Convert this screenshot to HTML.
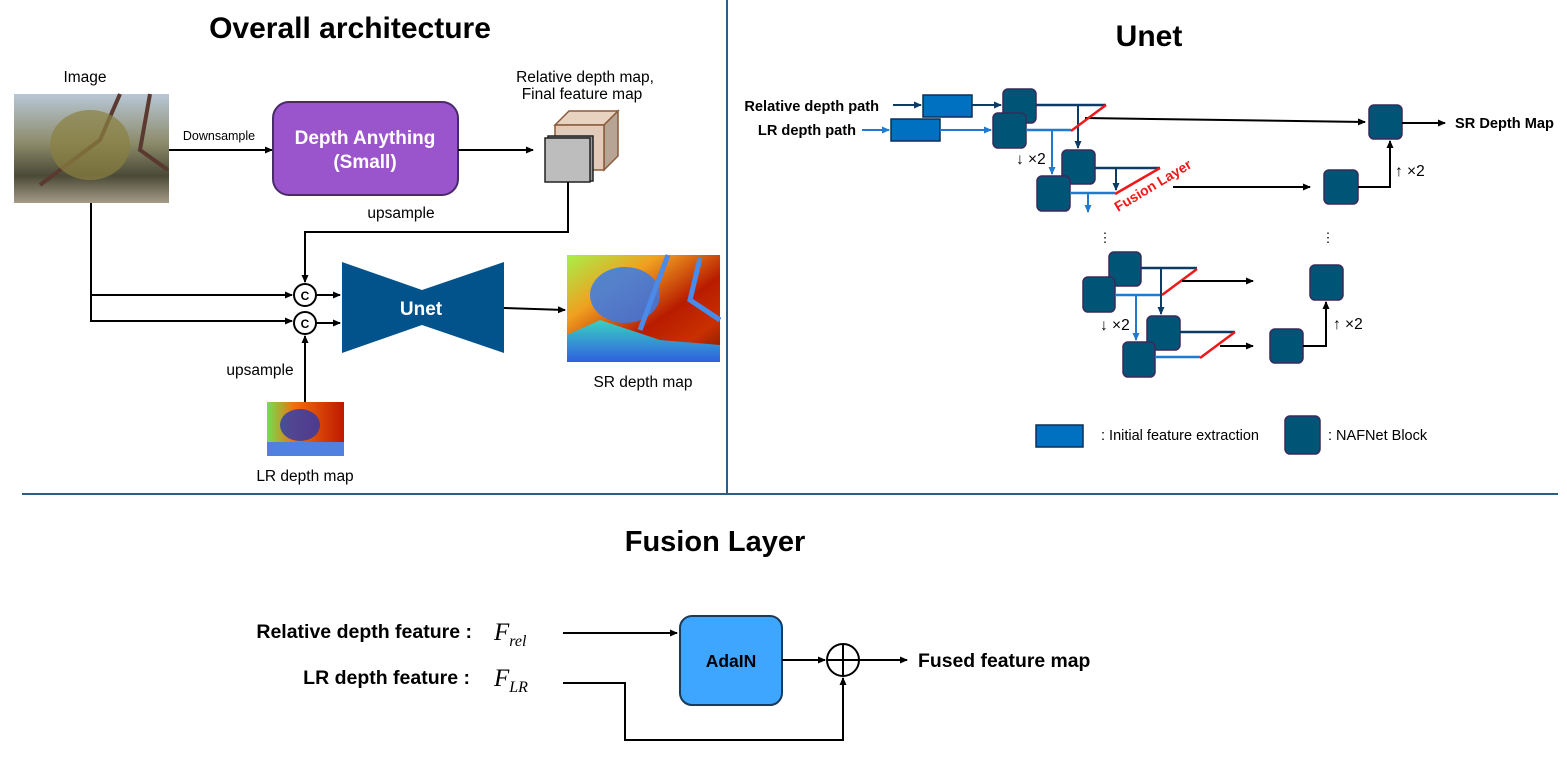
<!DOCTYPE html>
<html><head><meta charset="utf-8"><style>
body{margin:0;background:#fff;}
svg text{font-family:"Liberation Sans",Arial,sans-serif;}
</style></head><body>
<svg width="1567" height="768" viewBox="0 0 1567 768" xmlns="http://www.w3.org/2000/svg">
<defs>
<marker id="a" markerWidth="8" markerHeight="8" refX="7" refY="4" orient="auto" markerUnits="userSpaceOnUse"><path d="M0,0.5 L8,4 L0,7.5 z" fill="#000"/></marker>
<marker id="an" markerWidth="8" markerHeight="8" refX="7" refY="4" orient="auto" markerUnits="userSpaceOnUse"><path d="M0,0.5 L8,4 L0,7.5 z" fill="#0e3b66"/></marker>
<marker id="ab" markerWidth="8" markerHeight="8" refX="7" refY="4" orient="auto" markerUnits="userSpaceOnUse"><path d="M0,0.5 L8,4 L0,7.5 z" fill="#1f7ad0"/></marker>
<linearGradient id="img" x1="0" y1="0" x2="0" y2="1"><stop offset="0" stop-color="#b9c7d6"/><stop offset="0.45" stop-color="#8c8b6a"/><stop offset="0.75" stop-color="#4a4a36"/><stop offset="1" stop-color="#a49c88"/></linearGradient>
<linearGradient id="sr" x1="0" y1="0" x2="1" y2="1"><stop offset="0" stop-color="#a6f048"/><stop offset="0.3" stop-color="#f0a020"/><stop offset="0.6" stop-color="#b81c00"/><stop offset="0.8" stop-color="#c83000"/><stop offset="1" stop-color="#7a1800"/></linearGradient>
<linearGradient id="srb" x1="0" y1="0" x2="0" y2="1"><stop offset="0" stop-color="#3ad0c0"/><stop offset="1" stop-color="#3060e0"/></linearGradient>
<linearGradient id="lr" x1="0" y1="0" x2="1" y2="0"><stop offset="0" stop-color="#70e050"/><stop offset="0.35" stop-color="#f07010"/><stop offset="1" stop-color="#c01800"/></linearGradient>
</defs>

<line x1="727" y1="0" x2="727" y2="493" stroke="#2b5d86" stroke-width="2"/>
<line x1="22" y1="494" x2="1558" y2="494" stroke="#2b5d86" stroke-width="2"/>

<text x="350" y="38" font-size="30" font-weight="bold" text-anchor="middle">Overall architecture</text>
<text x="85" y="82" font-size="15.5" text-anchor="middle">Image</text>
<rect x="14" y="94" width="155" height="109" fill="url(#img)"/>
<path d="M120,94 L100,140 L40,185 M150,94 L140,150 L168,170" stroke="#5a3a30" stroke-width="4" fill="none"/>
<ellipse cx="90" cy="145" rx="40" ry="35" fill="#8a8040" opacity="0.7"/>
<text x="219" y="140" font-size="12.5" text-anchor="middle">Downsample</text>
<line x1="169" y1="150" x2="272" y2="150" stroke="#000" stroke-width="2" marker-end="url(#a)"/>
<rect x="273" y="102" width="185" height="93" rx="16" fill="#9a55cc" stroke="#4a2a6a" stroke-width="2"/>
<text x="365" y="144" font-size="19" font-weight="bold" fill="#fff" text-anchor="middle">Depth Anything</text>
<text x="365" y="168" font-size="19" font-weight="bold" fill="#fff" text-anchor="middle">(Small)</text>
<line x1="458" y1="150" x2="533" y2="150" stroke="#000" stroke-width="2" marker-end="url(#a)"/>
<text x="585" y="82" font-size="15.5" text-anchor="middle">Relative depth map,</text>
<text x="582" y="99" font-size="15.5" text-anchor="middle">Final feature map</text>
<polygon points="555,125 569,111 618,111 604,125" fill="#e8d2c0" stroke="#8a5a3a" stroke-width="1.5"/>
<polygon points="604,125 618,111 618,156 604,170" fill="#b8a494" stroke="#8a5a3a" stroke-width="1.5"/>
<rect x="555" y="125" width="49" height="45" fill="#e2cbb8" stroke="#8a5a3a" stroke-width="1.5"/>
<rect x="548" y="136" width="45" height="45" fill="#9a9a9a" stroke="#222" stroke-width="1.5"/>
<rect x="545" y="138" width="45" height="44" fill="#bdbdbd" stroke="#222" stroke-width="1.5"/>
<text x="401" y="218" font-size="15.5" text-anchor="middle">upsample</text>
<polyline points="568,182 568,232 305,232 305,282" fill="none" stroke="#000" stroke-width="2" marker-end="url(#a)"/>
<polyline points="91,203 91,321 292,321" fill="none" stroke="#000" stroke-width="2" marker-end="url(#a)"/>
<line x1="91" y1="295" x2="292" y2="295" stroke="#000" stroke-width="2" marker-end="url(#a)"/>
<circle cx="305" cy="295" r="11" fill="#fff" stroke="#000" stroke-width="2"/>
<text x="305" y="300" font-size="12" font-weight="bold" text-anchor="middle">C</text>
<circle cx="305" cy="323" r="11" fill="#fff" stroke="#000" stroke-width="2"/>
<text x="305" y="328" font-size="12" font-weight="bold" text-anchor="middle">C</text>
<line x1="316" y1="295" x2="340" y2="295" stroke="#000" stroke-width="2" marker-end="url(#a)"/>
<line x1="316" y1="323" x2="340" y2="323" stroke="#000" stroke-width="2" marker-end="url(#a)"/>
<polygon points="342,262 422,290 504,262 504,353 422,325 342,353" fill="#02528c"/>
<text x="421" y="315" font-size="19" font-weight="bold" fill="#fff" text-anchor="middle">Unet</text>
<line x1="504" y1="308" x2="565" y2="310" stroke="#000" stroke-width="2" marker-end="url(#a)"/>
<rect x="567" y="255" width="153" height="107" fill="url(#sr)"/>
<polygon points="567,335 600,320 660,340 720,345 720,362 567,362" fill="url(#srb)"/>
<ellipse cx="625" cy="295" rx="35" ry="28" fill="#3a7ae8" opacity="0.85"/>
<path d="M668,255 L640,330 M700,258 L690,300 L720,320" stroke="#4a8ae8" stroke-width="5" fill="none"/>
<text x="643" y="387" font-size="15.5" text-anchor="middle">SR depth map</text>
<text x="260" y="375" font-size="15.5" text-anchor="middle">upsample</text>
<line x1="305" y1="402" x2="305" y2="336" stroke="#000" stroke-width="2" marker-end="url(#a)"/>
<rect x="267" y="402" width="77" height="54" fill="url(#lr)"/>
<ellipse cx="300" cy="425" rx="20" ry="16" fill="#2a3ab0" opacity="0.8"/>
<rect x="267" y="442" width="77" height="14" fill="#5080e0"/>
<text x="305" y="481" font-size="15.5" text-anchor="middle">LR depth map</text>

<text x="1149" y="46" font-size="30" font-weight="bold" text-anchor="middle">Unet</text>
<text x="879" y="111" font-size="14.6" font-weight="bold" text-anchor="end">Relative depth path</text>
<text x="856" y="135" font-size="14.6" font-weight="bold" text-anchor="end">LR depth path</text>
<line x1="893" y1="105" x2="921" y2="105" stroke="#0e3b66" stroke-width="2" marker-end="url(#an)"/>
<line x1="862" y1="130" x2="889" y2="130" stroke="#1f7ad0" stroke-width="2" marker-end="url(#ab)"/>
<rect x="923" y="95" width="49" height="22" fill="#0070c0" stroke="#0d2f55" stroke-width="1.5"/>
<rect x="891" y="119" width="49" height="22" fill="#0070c0" stroke="#0d2f55" stroke-width="1.5"/>
<line x1="972" y1="105" x2="1001" y2="105" stroke="#0e3b66" stroke-width="2" marker-end="url(#an)"/>
<line x1="940" y1="130" x2="991" y2="130" stroke="#1f7ad0" stroke-width="2" marker-end="url(#ab)"/>

<g fill="#005577" stroke="#3b2a5a" stroke-width="1.5">
<rect x="1003" y="89" width="33" height="34" rx="5"/>
<rect x="993" y="113" width="33" height="35" rx="5"/>
</g>
<line x1="1036" y1="105" x2="1106" y2="105" stroke="#0e3b66" stroke-width="2.5"/>
<line x1="1026" y1="130" x2="1071" y2="130" stroke="#1f7ad0" stroke-width="2.5"/>
<line x1="1078" y1="105" x2="1078" y2="148" stroke="#0e3b66" stroke-width="2" marker-end="url(#an)"/>
<line x1="1052" y1="130" x2="1052" y2="174" stroke="#1f7ad0" stroke-width="2" marker-end="url(#ab)"/>
<line x1="1085" y1="118" x2="1365" y2="122" stroke="#000" stroke-width="2" marker-end="url(#a)"/>
<line x1="1106" y1="105" x2="1071" y2="131" stroke="#f01818" stroke-width="2.5"/>
<text x="1016" y="164" font-size="15.5">↓ ×2</text>

<g fill="#005577" stroke="#3b2a5a" stroke-width="1.5">
<rect x="1062" y="150" width="33" height="34" rx="5"/>
<rect x="1037" y="176" width="33" height="35" rx="5"/>
</g>
<line x1="1095" y1="168" x2="1160" y2="168" stroke="#0e3b66" stroke-width="2.5"/>
<line x1="1070" y1="193" x2="1115" y2="193" stroke="#1f7ad0" stroke-width="2.5"/>
<line x1="1116" y1="168" x2="1116" y2="190" stroke="#0e3b66" stroke-width="2" marker-end="url(#an)"/>
<line x1="1088" y1="193" x2="1088" y2="212" stroke="#1f7ad0" stroke-width="2" marker-end="url(#ab)"/>
<line x1="1160" y1="168" x2="1115" y2="194" stroke="#f01818" stroke-width="2.5"/>
<text x="0" y="0" font-size="14" font-weight="bold" fill="#f01818" transform="translate(1118,212) rotate(-31)">Fusion Layer</text>
<line x1="1173" y1="187" x2="1310" y2="187" stroke="#000" stroke-width="2" marker-end="url(#a)"/>

<text x="1105" y="242" font-size="13" text-anchor="middle">⋮</text>
<text x="1328" y="242" font-size="13" text-anchor="middle">⋮</text>

<g fill="#005577" stroke="#3b2a5a" stroke-width="1.5">
<rect x="1109" y="252" width="32" height="34" rx="5"/>
<rect x="1083" y="277" width="32" height="35" rx="5"/>
<rect x="1147" y="316" width="33" height="34" rx="5"/>
<rect x="1123" y="342" width="32" height="35" rx="5"/>
<rect x="1369" y="105" width="33" height="34" rx="5"/>
<rect x="1324" y="170" width="34" height="34" rx="5"/>
<rect x="1310" y="265" width="33" height="35" rx="5"/>
<rect x="1270" y="329" width="33" height="34" rx="5"/>
<rect x="1285" y="416" width="35" height="38" rx="5"/>
</g>
<line x1="1141" y1="268" x2="1197" y2="268" stroke="#0e3b66" stroke-width="2.5"/>
<line x1="1115" y1="295" x2="1162" y2="295" stroke="#1f7ad0" stroke-width="2.5"/>
<line x1="1161" y1="268" x2="1161" y2="314" stroke="#0e3b66" stroke-width="2" marker-end="url(#an)"/>
<line x1="1136" y1="295" x2="1136" y2="340" stroke="#1f7ad0" stroke-width="2" marker-end="url(#ab)"/>
<line x1="1197" y1="269" x2="1162" y2="295" stroke="#f01818" stroke-width="2.5"/>
<line x1="1182" y1="281" x2="1253" y2="281" stroke="#000" stroke-width="2" marker-end="url(#a)"/>
<text x="1100" y="330" font-size="15.5">↓ ×2</text>
<line x1="1180" y1="332" x2="1235" y2="332" stroke="#0e3b66" stroke-width="2.5"/>
<line x1="1155" y1="357" x2="1200" y2="357" stroke="#1f7ad0" stroke-width="2.5"/>
<line x1="1235" y1="332" x2="1200" y2="358" stroke="#f01818" stroke-width="2.5"/>
<line x1="1220" y1="346" x2="1253" y2="346" stroke="#000" stroke-width="2" marker-end="url(#a)"/>

<polyline points="1303,346 1326,346 1326,302" fill="none" stroke="#000" stroke-width="2" marker-end="url(#a)"/>
<text x="1333" y="329" font-size="15.5">↑ ×2</text>
<polyline points="1358,187 1390,187 1390,141" fill="none" stroke="#000" stroke-width="2" marker-end="url(#a)"/>
<text x="1395" y="176" font-size="15.5">↑ ×2</text>
<line x1="1402" y1="123" x2="1445" y2="123" stroke="#000" stroke-width="2" marker-end="url(#a)"/>
<text x="1455" y="128" font-size="14.6" font-weight="bold">SR Depth Map</text>

<rect x="1036" y="425" width="47" height="22" fill="#0070c0" stroke="#0d2f55" stroke-width="1.5"/>
<text x="1101" y="440" font-size="14.5">: Initial feature extraction</text>
<text x="1328" y="440" font-size="14.5">:  NAFNet  Block</text>

<text x="715" y="551" font-size="29" font-weight="bold" text-anchor="middle">Fusion Layer</text>
<text x="472" y="638" font-size="19.5" font-weight="bold" text-anchor="end">Relative depth feature :</text>
<text x="470" y="684" font-size="19.5" font-weight="bold" text-anchor="end">LR depth feature :</text>
<text x="494" y="640" font-size="25" font-style="italic" style="font-family:'Liberation Serif',serif">F<tspan font-size="16" dy="6">rel</tspan></text>
<text x="494" y="686" font-size="25" font-style="italic" style="font-family:'Liberation Serif',serif">F<tspan font-size="16" dy="6">LR</tspan></text>
<line x1="563" y1="633" x2="677" y2="633" stroke="#000" stroke-width="2" marker-end="url(#a)"/>
<rect x="680" y="616" width="102" height="89" rx="12" fill="#3ea6ff" stroke="#1a3a5a" stroke-width="2"/>
<text x="731" y="667" font-size="17.5" font-weight="bold" text-anchor="middle">AdaIN</text>
<line x1="782" y1="660" x2="825" y2="660" stroke="#000" stroke-width="2" marker-end="url(#a)"/>
<circle cx="843" cy="660" r="16" fill="#fff" stroke="#000" stroke-width="2"/>
<line x1="827" y1="660" x2="859" y2="660" stroke="#000" stroke-width="2"/>
<line x1="843" y1="644" x2="843" y2="676" stroke="#000" stroke-width="2"/>
<line x1="859" y1="660" x2="907" y2="660" stroke="#000" stroke-width="2" marker-end="url(#a)"/>
<text x="918" y="667" font-size="19.4" font-weight="bold">Fused feature map</text>
<polyline points="563,683 625,683 625,740 843,740 843,678" fill="none" stroke="#000" stroke-width="2" marker-end="url(#a)"/>
</svg>
</body></html>
